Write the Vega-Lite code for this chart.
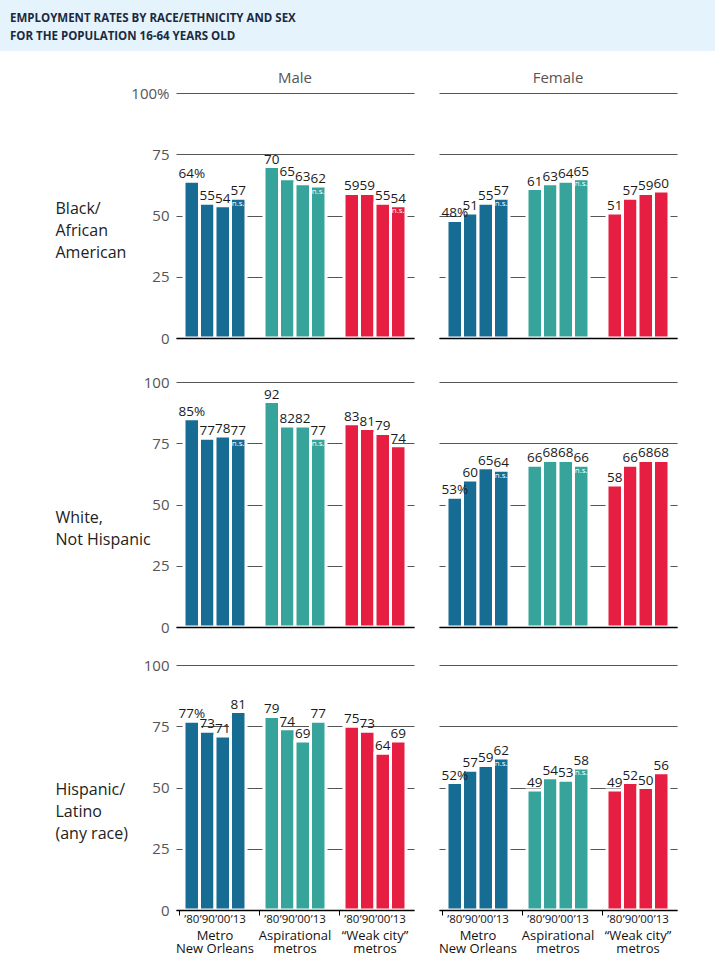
{
  "$schema": "https://vega.github.io/schema/vega-lite/v6.json",
  "padding": 0,
  "background": "white",
  "spacing": 19,
  "config": {
    "font": "Open Sans",
    "view": {"stroke": null},
    "axis": {"labelFont": "Open Sans", "titleFont": "Open Sans"},
    "title": {"font": "Open Sans", "fontSize": 15, "fontWeight": "normal", "color": "#555555", "offset": 8}
  },
  "datasets": {
    "emp": [
      {"race": "Black", "sex": "Male", "group": "Metro New Orleans", "year": "’80", "value": 64, "label": "64%", "ns": ""},
      {"race": "Black", "sex": "Male", "group": "Metro New Orleans", "year": "’90", "value": 55, "label": "55", "ns": ""},
      {"race": "Black", "sex": "Male", "group": "Metro New Orleans", "year": "’00", "value": 54, "label": "54", "ns": ""},
      {"race": "Black", "sex": "Male", "group": "Metro New Orleans", "year": "’13", "value": 57, "label": "57", "ns": "n.s."},
      {"race": "Black", "sex": "Male", "group": "Aspirational metros", "year": "’80", "value": 70, "label": "70", "ns": ""},
      {"race": "Black", "sex": "Male", "group": "Aspirational metros", "year": "’90", "value": 65, "label": "65", "ns": ""},
      {"race": "Black", "sex": "Male", "group": "Aspirational metros", "year": "’00", "value": 63, "label": "63", "ns": ""},
      {"race": "Black", "sex": "Male", "group": "Aspirational metros", "year": "’13", "value": 62, "label": "62", "ns": "n.s."},
      {"race": "Black", "sex": "Male", "group": "“Weak city” metros", "year": "’80", "value": 59, "label": "59", "ns": ""},
      {"race": "Black", "sex": "Male", "group": "“Weak city” metros", "year": "’90", "value": 59, "label": "59", "ns": ""},
      {"race": "Black", "sex": "Male", "group": "“Weak city” metros", "year": "’00", "value": 55, "label": "55", "ns": ""},
      {"race": "Black", "sex": "Male", "group": "“Weak city” metros", "year": "’13", "value": 54, "label": "54", "ns": "n.s."},
      {"race": "Black", "sex": "Female", "group": "Metro New Orleans", "year": "’80", "value": 48, "label": "48%", "ns": ""},
      {"race": "Black", "sex": "Female", "group": "Metro New Orleans", "year": "’90", "value": 51, "label": "51", "ns": ""},
      {"race": "Black", "sex": "Female", "group": "Metro New Orleans", "year": "’00", "value": 55, "label": "55", "ns": ""},
      {"race": "Black", "sex": "Female", "group": "Metro New Orleans", "year": "’13", "value": 57, "label": "57", "ns": "n.s."},
      {"race": "Black", "sex": "Female", "group": "Aspirational metros", "year": "’80", "value": 61, "label": "61", "ns": ""},
      {"race": "Black", "sex": "Female", "group": "Aspirational metros", "year": "’90", "value": 63, "label": "63", "ns": ""},
      {"race": "Black", "sex": "Female", "group": "Aspirational metros", "year": "’00", "value": 64, "label": "64", "ns": ""},
      {"race": "Black", "sex": "Female", "group": "Aspirational metros", "year": "’13", "value": 65, "label": "65", "ns": "n.s."},
      {"race": "Black", "sex": "Female", "group": "“Weak city” metros", "year": "’80", "value": 51, "label": "51", "ns": ""},
      {"race": "Black", "sex": "Female", "group": "“Weak city” metros", "year": "’90", "value": 57, "label": "57", "ns": ""},
      {"race": "Black", "sex": "Female", "group": "“Weak city” metros", "year": "’00", "value": 59, "label": "59", "ns": ""},
      {"race": "Black", "sex": "Female", "group": "“Weak city” metros", "year": "’13", "value": 60, "label": "60", "ns": ""},
      {"race": "White", "sex": "Male", "group": "Metro New Orleans", "year": "’80", "value": 85, "label": "85%", "ns": ""},
      {"race": "White", "sex": "Male", "group": "Metro New Orleans", "year": "’90", "value": 77, "label": "77", "ns": ""},
      {"race": "White", "sex": "Male", "group": "Metro New Orleans", "year": "’00", "value": 78, "label": "78", "ns": ""},
      {"race": "White", "sex": "Male", "group": "Metro New Orleans", "year": "’13", "value": 77, "label": "77", "ns": "n.s."},
      {"race": "White", "sex": "Male", "group": "Aspirational metros", "year": "’80", "value": 92, "label": "92", "ns": ""},
      {"race": "White", "sex": "Male", "group": "Aspirational metros", "year": "’90", "value": 82, "label": "82", "ns": ""},
      {"race": "White", "sex": "Male", "group": "Aspirational metros", "year": "’00", "value": 82, "label": "82", "ns": ""},
      {"race": "White", "sex": "Male", "group": "Aspirational metros", "year": "’13", "value": 77, "label": "77", "ns": "n.s."},
      {"race": "White", "sex": "Male", "group": "“Weak city” metros", "year": "’80", "value": 83, "label": "83", "ns": ""},
      {"race": "White", "sex": "Male", "group": "“Weak city” metros", "year": "’90", "value": 81, "label": "81", "ns": ""},
      {"race": "White", "sex": "Male", "group": "“Weak city” metros", "year": "’00", "value": 79, "label": "79", "ns": ""},
      {"race": "White", "sex": "Male", "group": "“Weak city” metros", "year": "’13", "value": 74, "label": "74", "ns": ""},
      {"race": "White", "sex": "Female", "group": "Metro New Orleans", "year": "’80", "value": 53, "label": "53%", "ns": ""},
      {"race": "White", "sex": "Female", "group": "Metro New Orleans", "year": "’90", "value": 60, "label": "60", "ns": ""},
      {"race": "White", "sex": "Female", "group": "Metro New Orleans", "year": "’00", "value": 65, "label": "65", "ns": ""},
      {"race": "White", "sex": "Female", "group": "Metro New Orleans", "year": "’13", "value": 64, "label": "64", "ns": "n.s."},
      {"race": "White", "sex": "Female", "group": "Aspirational metros", "year": "’80", "value": 66, "label": "66", "ns": ""},
      {"race": "White", "sex": "Female", "group": "Aspirational metros", "year": "’90", "value": 68, "label": "68", "ns": ""},
      {"race": "White", "sex": "Female", "group": "Aspirational metros", "year": "’00", "value": 68, "label": "68", "ns": ""},
      {"race": "White", "sex": "Female", "group": "Aspirational metros", "year": "’13", "value": 66, "label": "66", "ns": "n.s."},
      {"race": "White", "sex": "Female", "group": "“Weak city” metros", "year": "’80", "value": 58, "label": "58", "ns": ""},
      {"race": "White", "sex": "Female", "group": "“Weak city” metros", "year": "’90", "value": 66, "label": "66", "ns": ""},
      {"race": "White", "sex": "Female", "group": "“Weak city” metros", "year": "’00", "value": 68, "label": "68", "ns": ""},
      {"race": "White", "sex": "Female", "group": "“Weak city” metros", "year": "’13", "value": 68, "label": "68", "ns": ""},
      {"race": "Hispanic", "sex": "Male", "group": "Metro New Orleans", "year": "’80", "value": 77, "label": "77%", "ns": ""},
      {"race": "Hispanic", "sex": "Male", "group": "Metro New Orleans", "year": "’90", "value": 73, "label": "73", "ns": ""},
      {"race": "Hispanic", "sex": "Male", "group": "Metro New Orleans", "year": "’00", "value": 71, "label": "71", "ns": ""},
      {"race": "Hispanic", "sex": "Male", "group": "Metro New Orleans", "year": "’13", "value": 81, "label": "81", "ns": ""},
      {"race": "Hispanic", "sex": "Male", "group": "Aspirational metros", "year": "’80", "value": 79, "label": "79", "ns": ""},
      {"race": "Hispanic", "sex": "Male", "group": "Aspirational metros", "year": "’90", "value": 74, "label": "74", "ns": ""},
      {"race": "Hispanic", "sex": "Male", "group": "Aspirational metros", "year": "’00", "value": 69, "label": "69", "ns": ""},
      {"race": "Hispanic", "sex": "Male", "group": "Aspirational metros", "year": "’13", "value": 77, "label": "77", "ns": ""},
      {"race": "Hispanic", "sex": "Male", "group": "“Weak city” metros", "year": "’80", "value": 75, "label": "75", "ns": ""},
      {"race": "Hispanic", "sex": "Male", "group": "“Weak city” metros", "year": "’90", "value": 73, "label": "73", "ns": ""},
      {"race": "Hispanic", "sex": "Male", "group": "“Weak city” metros", "year": "’00", "value": 64, "label": "64", "ns": ""},
      {"race": "Hispanic", "sex": "Male", "group": "“Weak city” metros", "year": "’13", "value": 69, "label": "69", "ns": ""},
      {"race": "Hispanic", "sex": "Female", "group": "Metro New Orleans", "year": "’80", "value": 52, "label": "52%", "ns": ""},
      {"race": "Hispanic", "sex": "Female", "group": "Metro New Orleans", "year": "’90", "value": 57, "label": "57", "ns": ""},
      {"race": "Hispanic", "sex": "Female", "group": "Metro New Orleans", "year": "’00", "value": 59, "label": "59", "ns": ""},
      {"race": "Hispanic", "sex": "Female", "group": "Metro New Orleans", "year": "’13", "value": 62, "label": "62", "ns": "n.s."},
      {"race": "Hispanic", "sex": "Female", "group": "Aspirational metros", "year": "’80", "value": 49, "label": "49", "ns": ""},
      {"race": "Hispanic", "sex": "Female", "group": "Aspirational metros", "year": "’90", "value": 54, "label": "54", "ns": ""},
      {"race": "Hispanic", "sex": "Female", "group": "Aspirational metros", "year": "’00", "value": 53, "label": "53", "ns": ""},
      {"race": "Hispanic", "sex": "Female", "group": "Aspirational metros", "year": "’13", "value": 58, "label": "58", "ns": "n.s."},
      {"race": "Hispanic", "sex": "Female", "group": "“Weak city” metros", "year": "’80", "value": 49, "label": "49", "ns": ""},
      {"race": "Hispanic", "sex": "Female", "group": "“Weak city” metros", "year": "’90", "value": 52, "label": "52", "ns": ""},
      {"race": "Hispanic", "sex": "Female", "group": "“Weak city” metros", "year": "’00", "value": 50, "label": "50", "ns": ""},
      {"race": "Hispanic", "sex": "Female", "group": "“Weak city” metros", "year": "’13", "value": 56, "label": "56", "ns": ""}
    ]
  },
  "vconcat": [
    {
      "width": 715, "height": 51,
      "view": {"fill": "#e5f4fc", "stroke": null},
      "data": {"values": [{}]},
      "mark": {"type": "text"},
      "encoding": {"text": {"value": ""}},
      "title": {"text": ["EMPLOYMENT RATES BY RACE/ETHNICITY AND SEX", "FOR THE POPULATION 16-64 YEARS OLD"], "anchor": "start", "frame": "group", "orient": "bottom", "offset": -38, "baseline": "top", "dx": 10, "fontSize": 11.5, "fontWeight": "bold", "color": "#1b2a41", "lineHeight": 18}
    },
    {
      "bounds": "flush", "spacing": 25,
      "hconcat": [
        {"width": 151, "height": 245, "data": {"values": [{}]}, "mark": {"type": "text"}, "encoding": {"text": {"value": ""}}},
        {
          "width": 238, "height": 245, "data": {"name": "emp"},
          "title": {"text": "Male", "offset": 0.5},
          "transform": [{"filter": "datum.race == 'Black' && datum.sex == 'Male'"}],
          "encoding": {
            "x": {"field": "group", "type": "nominal", "sort": ["Metro New Orleans", "Aspirational metros", "“Weak city” metros"], "scale": {"paddingInner": 0.225, "paddingOuter": 0.1}, "axis": {"labels": false, "ticks": false, "title": null, "domainColor": "#000", "domainWidth": 1.5, "zindex": 1}},
            "xOffset": {"field": "year", "type": "nominal", "sort": ["’80", "’90", "’00", "’13"], "scale": {"paddingInner": 0, "paddingOuter": 0}},
            "y": {"field": "value", "type": "quantitative", "scale": {"domain": [0, 100]}, "axis": {"values": [0, 25, 50, 75, 100], "labelExpr": "datum.value == 100 ? '100%' : datum.label", "domain": false, "ticks": false, "grid": true, "gridColor": "#555", "gridWidth": 1.2, "labelFontSize": 15, "labelColor": "#555", "labelPadding": 7, "zindex": 0, "title": ["Black/", "African", "American"], "titleAngle": 0, "titleAlign": "left", "titleBaseline": "middle", "titleX": -121, "titleY": 115, "titleFontSize": 16, "titleFontWeight": "normal", "titleColor": "#222", "titleLineHeight": 22}}
          },
          "layer": [
            {"mark": {"type": "bar", "stroke": "white", "strokeWidth": 3}, "encoding": {"color": {"field": "group", "type": "nominal", "scale": {"domain": ["Metro New Orleans", "Aspirational metros", "“Weak city” metros"], "range": ["#176c93", "#36a49b", "#e61e42"]}, "legend": null}}},
            {"mark": {"type": "text", "dy": -3, "baseline": "alphabetic", "fontSize": 13.5, "color": "#1a1a1a"}, "encoding": {"text": {"field": "label"}}},
            {"transform": [{"filter": "datum.ns != ''"}], "mark": {"type": "text", "baseline": "top", "dy": 1.5, "fontSize": 8, "color": "white"}, "encoding": {"text": {"field": "ns"}}}
          ]
        },
        {
          "width": 238, "height": 245, "data": {"name": "emp"},
          "title": {"text": "Female", "offset": 7.4},
          "transform": [{"filter": "datum.race == 'Black' && datum.sex == 'Female'"}],
          "encoding": {
            "x": {"field": "group", "type": "nominal", "sort": ["Metro New Orleans", "Aspirational metros", "“Weak city” metros"], "scale": {"paddingInner": 0.225, "paddingOuter": 0.1}, "axis": {"labels": false, "ticks": false, "title": null, "domainColor": "#000", "domainWidth": 1.5, "zindex": 1}},
            "xOffset": {"field": "year", "type": "nominal", "sort": ["’80", "’90", "’00", "’13"], "scale": {"paddingInner": 0, "paddingOuter": 0}},
            "y": {"field": "value", "type": "quantitative", "scale": {"domain": [0, 100]}, "axis": {"values": [0, 25, 50, 75, 100], "labels": false, "domain": false, "ticks": false, "grid": true, "gridColor": "#555", "gridWidth": 1.2, "zindex": 0, "title": null}}
          },
          "layer": [
            {"mark": {"type": "bar", "stroke": "white", "strokeWidth": 3}, "encoding": {"color": {"field": "group", "type": "nominal", "scale": {"domain": ["Metro New Orleans", "Aspirational metros", "“Weak city” metros"], "range": ["#176c93", "#36a49b", "#e61e42"]}, "legend": null}}},
            {"mark": {"type": "text", "dy": -3, "baseline": "alphabetic", "fontSize": 13.5, "color": "#1a1a1a"}, "encoding": {"text": {"field": "label"}}},
            {"transform": [{"filter": "datum.ns != ''"}], "mark": {"type": "text", "baseline": "top", "dy": 1.5, "fontSize": 8, "color": "white"}, "encoding": {"text": {"field": "ns"}}}
          ]
        }
      ]
    },
    {
      "bounds": "flush", "spacing": 25,
      "hconcat": [
        {"width": 151, "height": 245, "data": {"values": [{}]}, "mark": {"type": "text"}, "encoding": {"text": {"value": ""}}},
        {
          "width": 238, "height": 245, "data": {"name": "emp"},
          "title": {"text": " ", "fontSize": 8, "offset": 1.5},
          "transform": [{"filter": "datum.race == 'White' && datum.sex == 'Male'"}],
          "encoding": {
            "x": {"field": "group", "type": "nominal", "sort": ["Metro New Orleans", "Aspirational metros", "“Weak city” metros"], "scale": {"paddingInner": 0.225, "paddingOuter": 0.1}, "axis": {"labels": false, "ticks": false, "title": null, "domainColor": "#000", "domainWidth": 1.5, "zindex": 1}},
            "xOffset": {"field": "year", "type": "nominal", "sort": ["’80", "’90", "’00", "’13"], "scale": {"paddingInner": 0, "paddingOuter": 0}},
            "y": {"field": "value", "type": "quantitative", "scale": {"domain": [0, 100]}, "axis": {"values": [0, 25, 50, 75, 100], "domain": false, "ticks": false, "grid": true, "gridColor": "#555", "gridWidth": 1.2, "labelFontSize": 15, "labelColor": "#555", "labelPadding": 7, "zindex": 0, "title": ["White,", "Not Hispanic"], "titleAngle": 0, "titleAlign": "left", "titleBaseline": "middle", "titleX": -121, "titleY": 135.5, "titleFontSize": 16, "titleFontWeight": "normal", "titleColor": "#222", "titleLineHeight": 22}}
          },
          "layer": [
            {"mark": {"type": "bar", "stroke": "white", "strokeWidth": 3}, "encoding": {"color": {"field": "group", "type": "nominal", "scale": {"domain": ["Metro New Orleans", "Aspirational metros", "“Weak city” metros"], "range": ["#176c93", "#36a49b", "#e61e42"]}, "legend": null}}},
            {"mark": {"type": "text", "dy": -3, "baseline": "alphabetic", "fontSize": 13.5, "color": "#1a1a1a"}, "encoding": {"text": {"field": "label"}}},
            {"transform": [{"filter": "datum.ns != ''"}], "mark": {"type": "text", "baseline": "top", "dy": 1.5, "fontSize": 8, "color": "white"}, "encoding": {"text": {"field": "ns"}}}
          ]
        },
        {
          "width": 238, "height": 245, "data": {"name": "emp"},
          "transform": [{"filter": "datum.race == 'White' && datum.sex == 'Female'"}],
          "encoding": {
            "x": {"field": "group", "type": "nominal", "sort": ["Metro New Orleans", "Aspirational metros", "“Weak city” metros"], "scale": {"paddingInner": 0.225, "paddingOuter": 0.1}, "axis": {"labels": false, "ticks": false, "title": null, "domainColor": "#000", "domainWidth": 1.5, "zindex": 1}},
            "xOffset": {"field": "year", "type": "nominal", "sort": ["’80", "’90", "’00", "’13"], "scale": {"paddingInner": 0, "paddingOuter": 0}},
            "y": {"field": "value", "type": "quantitative", "scale": {"domain": [0, 100]}, "axis": {"values": [0, 25, 50, 75, 100], "labels": false, "domain": false, "ticks": false, "grid": true, "gridColor": "#555", "gridWidth": 1.2, "zindex": 0, "title": null}}
          },
          "layer": [
            {"mark": {"type": "bar", "stroke": "white", "strokeWidth": 3}, "encoding": {"color": {"field": "group", "type": "nominal", "scale": {"domain": ["Metro New Orleans", "Aspirational metros", "“Weak city” metros"], "range": ["#176c93", "#36a49b", "#e61e42"]}, "legend": null}}},
            {"mark": {"type": "text", "dy": -3, "baseline": "alphabetic", "fontSize": 13.5, "color": "#1a1a1a"}, "encoding": {"text": {"field": "label"}}},
            {"transform": [{"filter": "datum.ns != ''"}], "mark": {"type": "text", "baseline": "top", "dy": 1.5, "fontSize": 8, "color": "white"}, "encoding": {"text": {"field": "ns"}}}
          ]
        }
      ]
    },
    {
      "bounds": "flush", "spacing": 25,
      "hconcat": [
        {"width": 151, "height": 245, "data": {"values": [{}]}, "mark": {"type": "text"}, "encoding": {"text": {"value": ""}}},
        {
          "width": 238, "height": 245, "data": {"name": "emp"},
          "title": {"text": " ", "fontSize": 3, "offset": 1},
          "transform": [{"filter": "datum.race == 'Hispanic' && datum.sex == 'Male'"}],
          "encoding": {
            "x": {"field": "group", "type": "nominal", "sort": ["Metro New Orleans", "Aspirational metros", "“Weak city” metros"], "scale": {"paddingInner": 0.225, "paddingOuter": 0.1}, "axis": {"labelExpr": "datum.value == 'Metro New Orleans' ? ['Metro', 'New Orleans'] : datum.value == 'Aspirational metros' ? ['Aspirational', 'metros'] : ['“Weak city”', 'metros']", "labelAngle": 0, "labelFontSize": 13, "labelColor": "#111", "labelPadding": 14, "labelLineHeight": 13.5, "labelBaseline": "top", "ticks": true, "bandPosition": -0.07, "tickSize": 5, "tickColor": "#000", "title": null, "domainColor": "#000", "domainWidth": 1.5, "zindex": 1}},
            "xOffset": {"field": "year", "type": "nominal", "sort": ["’80", "’90", "’00", "’13"], "scale": {"paddingInner": 0, "paddingOuter": 0}},
            "y": {"field": "value", "type": "quantitative", "scale": {"domain": [0, 100]}, "axis": {"values": [0, 25, 50, 75, 100], "domain": false, "ticks": false, "grid": true, "gridColor": "#555", "gridWidth": 1.2, "labelFontSize": 15, "labelColor": "#555", "labelPadding": 7, "zindex": 0, "title": ["Hispanic/", "Latino", "(any race)"], "titleAngle": 0, "titleAlign": "left", "titleBaseline": "middle", "titleX": -121, "titleY": 124, "titleFontSize": 16, "titleFontWeight": "normal", "titleColor": "#222", "titleLineHeight": 22}}
          },
          "layer": [
            {"mark": {"type": "bar", "stroke": "white", "strokeWidth": 3}, "encoding": {"color": {"field": "group", "type": "nominal", "scale": {"domain": ["Metro New Orleans", "Aspirational metros", "“Weak city” metros"], "range": ["#176c93", "#36a49b", "#e61e42"]}, "legend": null}}},
            {"mark": {"type": "text", "dy": -3, "baseline": "alphabetic", "fontSize": 13.5, "color": "#1a1a1a"}, "encoding": {"text": {"field": "label"}}},
            {"transform": [{"filter": "datum.ns != ''"}], "mark": {"type": "text", "baseline": "top", "dy": 1.5, "fontSize": 8, "color": "white"}, "encoding": {"text": {"field": "ns"}}},
            {"mark": {"type": "text", "baseline": "middle", "dy": 10, "fontSize": 11.5, "color": "#111"}, "encoding": {"y": {"datum": 0, "type": "quantitative"}, "text": {"field": "year"}}}
          ]
        },
        {
          "width": 238, "height": 245, "data": {"name": "emp"},
          "transform": [{"filter": "datum.race == 'Hispanic' && datum.sex == 'Female'"}],
          "encoding": {
            "x": {"field": "group", "type": "nominal", "sort": ["Metro New Orleans", "Aspirational metros", "“Weak city” metros"], "scale": {"paddingInner": 0.225, "paddingOuter": 0.1}, "axis": {"labelExpr": "datum.value == 'Metro New Orleans' ? ['Metro', 'New Orleans'] : datum.value == 'Aspirational metros' ? ['Aspirational', 'metros'] : ['“Weak city”', 'metros']", "labelAngle": 0, "labelFontSize": 13, "labelColor": "#111", "labelPadding": 14, "labelLineHeight": 13.5, "labelBaseline": "top", "ticks": true, "bandPosition": -0.07, "tickSize": 5, "tickColor": "#000", "title": null, "domainColor": "#000", "domainWidth": 1.5, "zindex": 1}},
            "xOffset": {"field": "year", "type": "nominal", "sort": ["’80", "’90", "’00", "’13"], "scale": {"paddingInner": 0, "paddingOuter": 0}},
            "y": {"field": "value", "type": "quantitative", "scale": {"domain": [0, 100]}, "axis": {"values": [0, 25, 50, 75, 100], "labels": false, "domain": false, "ticks": false, "grid": true, "gridColor": "#555", "gridWidth": 1.2, "zindex": 0, "title": null}}
          },
          "layer": [
            {"mark": {"type": "bar", "stroke": "white", "strokeWidth": 3}, "encoding": {"color": {"field": "group", "type": "nominal", "scale": {"domain": ["Metro New Orleans", "Aspirational metros", "“Weak city” metros"], "range": ["#176c93", "#36a49b", "#e61e42"]}, "legend": null}}},
            {"mark": {"type": "text", "dy": -3, "baseline": "alphabetic", "fontSize": 13.5, "color": "#1a1a1a"}, "encoding": {"text": {"field": "label"}}},
            {"transform": [{"filter": "datum.ns != ''"}], "mark": {"type": "text", "baseline": "top", "dy": 1.5, "fontSize": 8, "color": "white"}, "encoding": {"text": {"field": "ns"}}},
            {"mark": {"type": "text", "baseline": "middle", "dy": 10, "fontSize": 11.5, "color": "#111"}, "encoding": {"y": {"datum": 0, "type": "quantitative"}, "text": {"field": "year"}}}
          ]
        }
      ]
    }
  ]
}
